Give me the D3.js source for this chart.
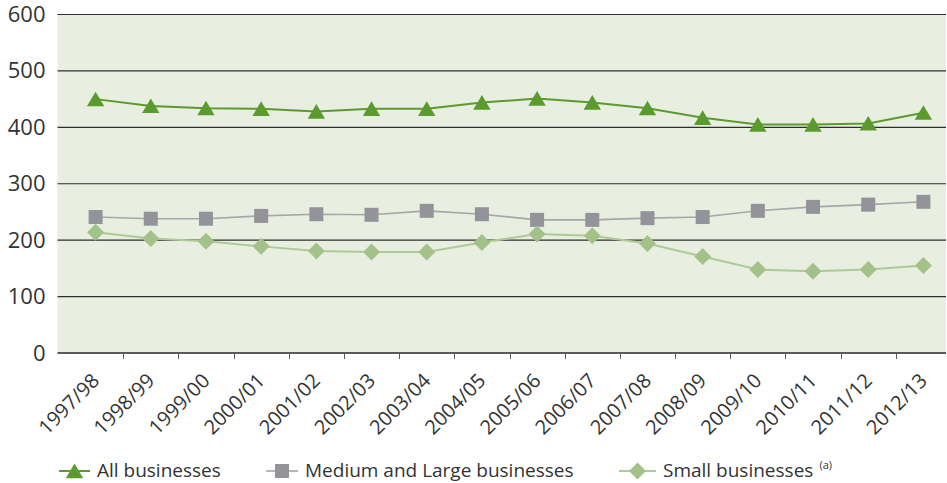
<!DOCTYPE html>
<html>
<head>
<meta charset="utf-8">
<script src="https://cdn.jsdelivr.net/npm/d3@7"></script>
<style>
  body { margin: 0; background: #fff; }
  text { font-family: "Open Sans", sans-serif; fill: #333; }
</style>
</head>
<body>
<svg></svg>
<script>
var years = ["1997/98", "1998/99", "1999/00", "2000/01", "2001/02", "2002/03", "2003/04", "2004/05",
    "2005/06", "2006/07", "2007/08", "2008/09", "2009/10", "2010/11", "2011/12", "2012/13"];
var allBusinesses = [450, 438, 434, 433, 428, 433, 433, 444, 451, 444, 434, 417, 405, 405, 407, 426];
var mediumLarge = [241, 238, 238, 243, 246, 245, 252, 246, 236, 236, 239, 241, 252, 259, 263, 268];
var smallBusinesses = [214, 203, 198, 189, 181, 179, 179, 196, 211, 208, 194, 171, 148, 145, 148, 155];
var yTicks = [0, 100, 200, 300, 400, 500, 600];

var series = [
    { name: "All businesses", values: allBusinesses, marker: "triangle", fill: "#5b9a2f", stroke: "#5b9a2f", lw: 2 },
    { name: "Medium and Large businesses", values: mediumLarge, marker: "square", fill: "#939399", stroke: "#a6a6ab", lw: 1.6 },
    { name: "Small businesses", values: smallBusinesses, marker: "diamond", fill: "#a3c28a", stroke: "#adcb95", lw: 2, note: "(a)" }
];

const svgWidth = 947, svgHeight = 483;
var plotLeft = 57.5, plotRight = 946, plotTop = 14.5, plotBottom = 353;

var svg = d3.select("svg")
    .attr("width", svgWidth)
    .attr("height", svgHeight);

var x = d3.scaleBand()
    .domain(years)
    .range([68, 951]);

var y = d3.scaleLinear()
    .domain([0, 600])
    .range([plotBottom, plotTop]);

var cx = d => x(d) + x.bandwidth() / 2;

// plot background
svg.append("rect")
    .attr("x", plotLeft)
    .attr("y", plotTop)
    .attr("width", plotRight - plotLeft)
    .attr("height", plotBottom - plotTop)
    .attr("fill", "#e8eee0");

// gridlines
svg.append("g").selectAll("line")
    .data(yTicks.filter(d => d > 0))
    .enter().append("line")
    .attr("x1", plotLeft)
    .attr("x2", plotRight)
    .attr("y1", d => y(d))
    .attr("y2", d => y(d))
    .attr("stroke", "#2e2e2e")
    .attr("stroke-width", 1.1);

// y axis labels
var yAxis = d3.axisLeft(y).tickValues(yTicks).tickSize(0).tickPadding(12);
var gy = svg.append("g")
    .attr("transform", "translate(" + plotLeft + ",0)")
    .call(yAxis);
gy.select(".domain").remove();
gy.selectAll(".tick text")
    .attr("font-size", 22)
    .attr("font-family", "Open Sans")
    .attr("fill", "#333");

// x axis line + ticks between categories
svg.append("line")
    .attr("x1", plotLeft)
    .attr("x2", plotRight)
    .attr("y1", plotBottom)
    .attr("y2", plotBottom)
    .attr("stroke", "#5a5a5a")
    .attr("stroke-width", 2);

svg.append("g").selectAll("line")
    .data(years.slice(1))
    .enter().append("line")
    .attr("x1", d => Math.round(x(d)) + 0.5)
    .attr("x2", d => Math.round(x(d)) + 0.5)
    .attr("y1", plotBottom)
    .attr("y2", plotBottom + 6)
    .attr("stroke", "#5a5a5a")
    .attr("stroke-width", 1);

svg.append("g").selectAll("text")
    .data(years)
    .enter().append("text")
    .attr("transform", d => "translate(" + (cx(d) + 5) + ",382) rotate(-45)")
    .attr("text-anchor", "end")
    .attr("font-size", 20)
    .text(d => d);

// marker shapes
function markerPath(type) {
    if (type == "triangle") return "M0,-7.5L8.7,7.2L-8.7,7.2Z";
    if (type == "square") return "M-7,-7H7V7H-7Z";
    return "M0,-8.5L8.5,0L0,8.5L-8.5,0Z";
}

var line = d3.line()
    .x((d, i) => cx(years[i]))
    .y(d => y(d));

series.forEach(function(s) {
    svg.append("path")
        .datum(s.values)
        .attr("fill", "none")
        .attr("stroke", s.stroke)
        .attr("stroke-width", s.lw)
        .attr("d", line);
});

series.forEach(function(s) {
    svg.append("g").selectAll("path")
        .data(s.values)
        .enter().append("path")
        .attr("d", markerPath(s.marker))
        .attr("fill", s.fill)
        .attr("transform", (d, i) => "translate(" + cx(years[i]) + "," + y(d) + ")");
});

// legend
var legendX = [59, 266, 619];
var legendW = [31, 32, 37];
var legend = svg.append("g");
series.forEach(function(s, i) {
    var g = legend.append("g").attr("transform", "translate(" + legendX[i] + ",471)");
    g.append("line")
        .attr("x1", 0).attr("x2", legendW[i])
        .attr("stroke", s.stroke)
        .attr("stroke-width", s.lw);
    g.append("path")
        .attr("d", markerPath(s.marker))
        .attr("fill", s.fill)
        .attr("transform", "translate(" + legendW[i] / 2 + ",0)");
    var t = g.append("text")
        .attr("x", legendW[i] + 7)
        .attr("y", 5.5)
        .attr("font-size", 19)
        .text(s.name);
    if (s.note) {
        t.append("tspan")
            .attr("font-size", 11)
            .attr("dx", 6)
            .attr("dy", -8)
            .text(s.note);
    }
});
</script>
</body>
</html>
